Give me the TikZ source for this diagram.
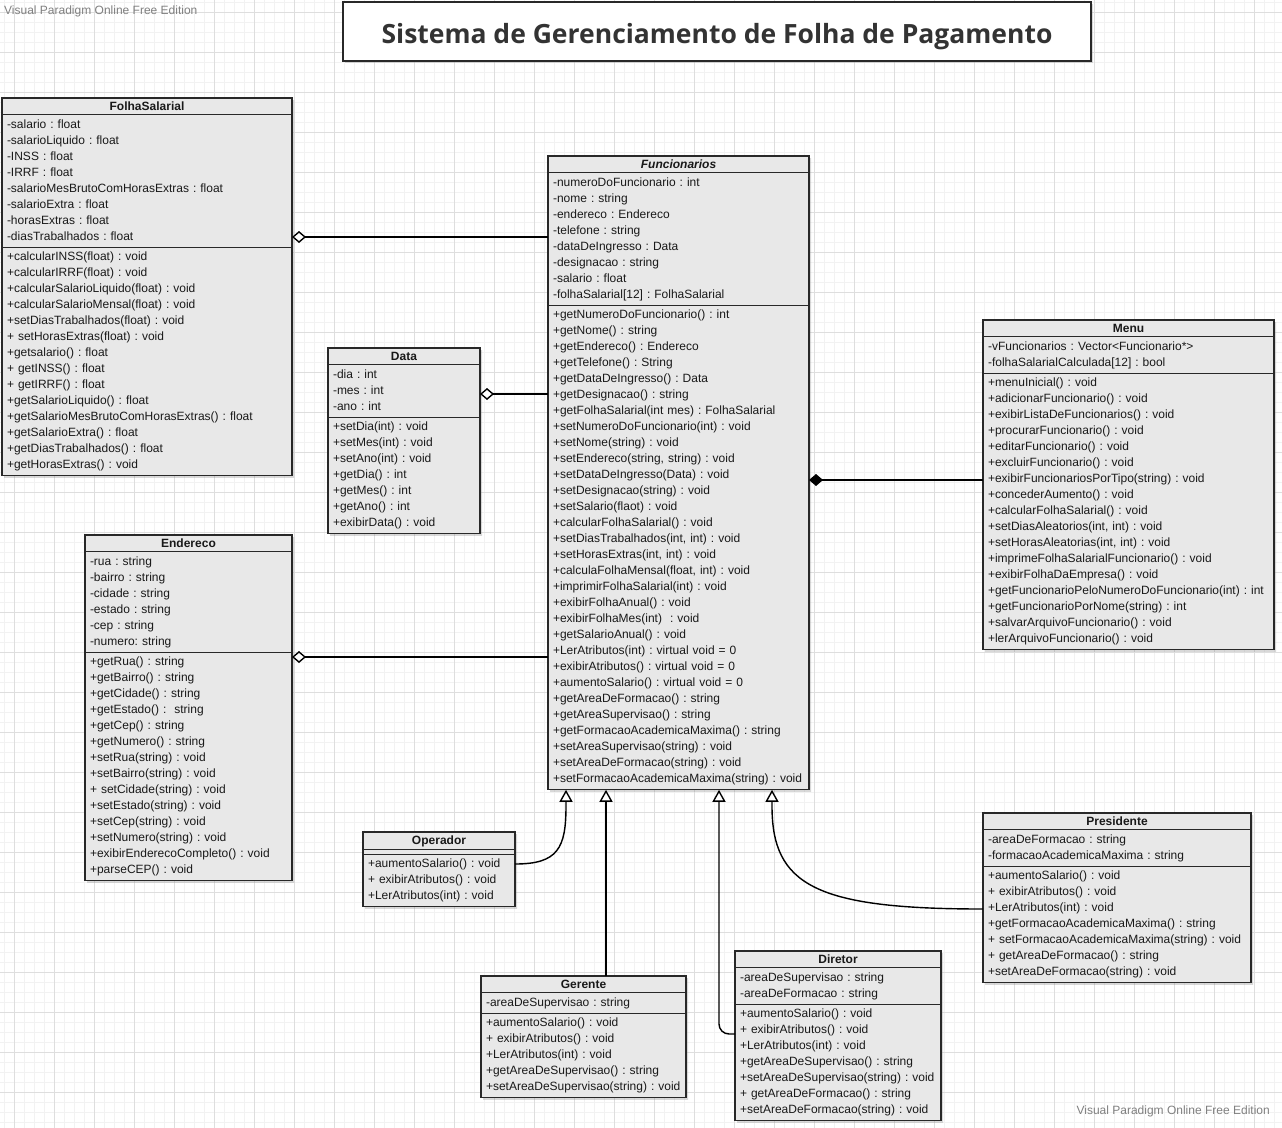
\documentclass[tikz,border=0pt]{standalone}
\usepackage{fontspec}
\setmainfont{Liberation Sans}
\newfontfamily\titulofont{Open Sans}
\usetikzlibrary{shapes.multipart,arrows.meta,shadows}

\definecolor{fundo}{RGB}{232,232,232}
\definecolor{borda}{RGB}{40,40,40}
\definecolor{gradefina}{RGB}{242,242,242}
\definecolor{gradeforte}{RGB}{222,222,222}
\definecolor{marca}{RGB}{128,128,128}
\definecolor{titulo}{RGB}{51,51,51}

\newcommand{\cab}[1]{\rule[-1.5pt]{0pt}{12pt}\hfill\textbf{#1}\hfill\null}

\tikzstyle{classe} = [rectangle split, rectangle split parts=3, draw=borda, line width=1.2pt, fill=fundo, inner xsep=5pt, inner ysep=1.7pt, outer sep=0pt, anchor=north west, align=left, text=black!90, font=\fontsize{12}{16}\selectfont\frenchspacing, drop shadow={shadow xshift=2pt, shadow yshift=-2pt, opacity=0.3}]
\tikzstyle{agreg} = [{Diamond[open, fill=white, length=14pt, width=12pt]}-, line width=1.4pt]
\tikzstyle{compos} = [{Diamond[length=14pt, width=12pt]}-, line width=1.4pt]
\tikzstyle{heranca} = [-{Triangle[open, fill=white, length=12pt, width=13pt]}, line width=1.4pt]
\tikzstyle{marcadagua} = [inner sep=0pt, text=marca, font=\fontsize{12}{14}\selectfont]

\begin{document}
\begin{tikzpicture}[x=1pt, y=-1pt]
\useasboundingbox (0,0) rectangle (1282,1127);
\fill[white] (0,0) rectangle (1282,1127);
\begin{scope}
\clip (0,0) rectangle (1282,1127);
\draw[gradefina, line width=0.6pt, step=10pt, shift={(4,2)}] (-10,-10) grid (1290,1140);
\draw[gradeforte, line width=0.6pt, step=40pt, shift={(14,12)}] (-40,-40) grid (1300,1160);
\end{scope}

\node[marcadagua, anchor=west] (marca1) at (4,11) {Visual Paradigm Online Free Edition};
\node[marcadagua, anchor=east] (marca2) at (1270,1111) {Visual Paradigm Online Free Edition};

\node[draw=borda, line width=1.2pt, fill=white, minimum width=748pt, minimum height=59pt, text height=24pt, text depth=0pt, text=titulo, font=\titulofont\bfseries\fontsize{26.5}{30}\selectfont, drop shadow={shadow xshift=2pt, shadow yshift=-2pt, opacity=0.3}] (titulo) at (717,31.5) {Sistema de Gerenciamento de Folha de Pagamento};

\node[classe, text width=280pt] (folha) at (2,98) {\cab{FolhaSalarial}
\nodepart{two}\strut -salario : float\\ -salarioLiquido : float\\ -INSS : float\\ -IRRF : float\\ -salarioMesBrutoComHorasExtras : float\\ -salarioExtra : float\\ -horasExtras : float\\ -diasTrabalhados : float\strut
\nodepart{three}\strut +calcularINSS(float) : void\\ +calcularIRRF(float) : void\\ +calcularSalarioLiquido(float) : void\\ +calcularSalarioMensal(float) : void\\ +setDiasTrabalhados(float) : void\\ + setHorasExtras(float) : void\\ +getsalario() : float\\ + getINSS() : float\\ + getIRRF() : float\\ +getSalarioLiquido() : float\\ +getSalarioMesBrutoComHorasExtras() : float\\ +getSalarioExtra() : float\\ +getDiasTrabalhados() : float\\ +getHorasExtras() : void\strut};

\node[classe, text width=251pt] (func) at (548,156) {\cab{\textit{Funcionarios}}
\nodepart{two}\strut -numeroDoFuncionario : int\\ -nome : string\\ -endereco : Endereco\\ -telefone : string\\ -dataDeIngresso : Data\\ -designacao : string\\ -salario : float\\ -folhaSalarial[12] : FolhaSalarial\strut
\nodepart{three}\strut +getNumeroDoFuncionario() : int\\ +getNome() : string\\ +getEndereco() : Endereco\\ +getTelefone() : String\\ +getDataDeIngresso() : Data\\ +getDesignacao() : string\\ +getFolhaSalarial(int mes) : FolhaSalarial\\ +setNumeroDoFuncionario(int) : void\\ +setNome(string) : void\\ +setEndereco(string, string) : void\\ +setDataDeIngresso(Data) : void\\ +setDesignacao(string) : void\\ +setSalario(flaot) : void\\ +calcularFolhaSalarial() : void\\ +setDiasTrabalhados(int, int) : void\\ +setHorasExtras(int, int) : void\\ +calculaFolhaMensal(float, int) : void\\ +imprimirFolhaSalarial(int) : void\\ +exibirFolhaAnual() : void\\ +exibirFolhaMes(int)\ \ : void\\ +getSalarioAnual() : void\\ +LerAtributos(int) : virtual void = 0\\ +exibirAtributos() : virtual void = 0\\ +aumentoSalario() : virtual void = 0\\ +getAreaDeFormacao() : string\\ +getAreaSupervisao() : string\\ +getFormacaoAcademicaMaxima() : string\\ +setAreaSupervisao(string) : void\\ +setAreaDeFormacao(string) : void\\ +setFormacaoAcademicaMaxima(string) : void\strut};

\node[classe, text width=142pt] (data) at (328,348) {\cab{Data}
\nodepart{two}\strut -dia : int\\ -mes : int\\ -ano : int\strut
\nodepart{three}\strut +setDia(int) : void\\ +setMes(int) : void\\ +setAno(int) : void\\ +getDia() : int\\ +getMes() : int\\ +getAno() : int\\ +exibirData() : void\strut};

\node[classe, text width=197pt] (ender) at (85,535) {\cab{Endereco}
\nodepart{two}\strut -rua : string\\ -bairro : string\\ -cidade : string\\ -estado : string\\ -cep : string\\ -numero: string\strut
\nodepart{three}\strut +getRua() : string\\ +getBairro() : string\\ +getCidade() : string\\ +getEstado() :\ \ string\\ +getCep() : string\\ +getNumero() : string\\ +setRua(string) : void\\ +setBairro(string) : void\\ + setCidade(string) : void\\ +setEstado(string) : void\\ +setCep(string) : void\\ +setNumero(string) : void\\ +exibirEnderecoCompleto() : void\\ +parseCEP() : void\strut};

\node[classe, text width=281pt] (menu) at (983,320) {\cab{Menu}
\nodepart{two}\strut -vFuncionarios : Vector<Funcionario*>\\ -folhaSalarialCalculada[12] : bool\strut
\nodepart{three}\strut +menuInicial() : void\\ +adicionarFuncionario() : void\\ +exibirListaDeFuncionarios() : void\\ +procurarFuncionario() : void\\ +editarFuncionario() : void\\ +excluirFuncionario() : void\\ +exibirFuncionariosPorTipo(string) : void\\ +concederAumento() : void\\ +calcularFolhaSalarial() : void\\ +setDiasAleatorios(int, int) : void\\ +setHorasAleatorias(int, int) : void\\ +imprimeFolhaSalarialFuncionario() : void\\ +exibirFolhaDaEmpresa() : void\\ +getFuncionarioPeloNumeroDoFuncionario(int) : int\\ +getFuncionarioPorNome(string) : int\\ +salvarArquivoFuncionario() : void\\ +lerArquivoFuncionario() : void\strut};

\node[classe, text width=142pt] (oper) at (363,832) {\cab{Operador}
\nodepart{two}
\nodepart{three}\strut +aumentoSalario() : void\\ + exibirAtributos() : void\\ +LerAtributos(int) : void\strut};

\node[classe, text width=195pt] (ger) at (481,976) {\cab{Gerente}
\nodepart{two}\strut -areaDeSupervisao : string\strut
\nodepart{three}\strut +aumentoSalario() : void\\ + exibirAtributos() : void\\ +LerAtributos(int) : void\\ +getAreaDeSupervisao() : string\\ +setAreaDeSupervisao(string) : void\strut};

\node[classe, text width=196pt] (dir) at (735,951) {\cab{Diretor}
\nodepart{two}\strut -areaDeSupervisao : string\\ -areaDeFormacao : string\strut
\nodepart{three}\strut +aumentoSalario() : void\\ + exibirAtributos() : void\\ +LerAtributos(int) : void\\ +getAreaDeSupervisao() : string\\ +setAreaDeSupervisao(string) : void\\ + getAreaDeFormacao() : string\\ +setAreaDeFormacao(string) : void\strut};

\node[classe, text width=258pt] (pres) at (983,813) {\cab{Presidente}
\nodepart{two}\strut -areaDeFormacao : string\\ -formacaoAcademicaMaxima : string\strut
\nodepart{three}\strut +aumentoSalario() : void\\ + exibirAtributos() : void\\ +LerAtributos(int) : void\\ +getFormacaoAcademicaMaxima() : string\\ + setFormacaoAcademicaMaxima(string) : void\\ + getAreaDeFormacao() : string\\ +setAreaDeFormacao(string) : void\strut};

\foreach \from/\yy in {folha/237,data/394,ender/657}
{
	\draw[agreg] (\from.east |- 0,\yy) -- (func.west |- 0,\yy);
}
\draw[compos] (func.east |- 0,480) -- (menu.west |- 0,480);

\draw[heranca] (oper.east |- 0,864) .. controls (558,864) and (566,848) .. (566,806) -- (func.south -| 566,0);
\draw[heranca] (ger.north -| 606,0) -- (func.south -| 606,0);
\draw[heranca, rounded corners=10pt] (dir.west |- 0,1034) -| (func.south -| 719,0);
\draw[heranca] (pres.west |- 0,909) .. controls (815,909) and (772,885) .. (772,806) -- (func.south -| 772,0);

\end{tikzpicture}
\end{document}
